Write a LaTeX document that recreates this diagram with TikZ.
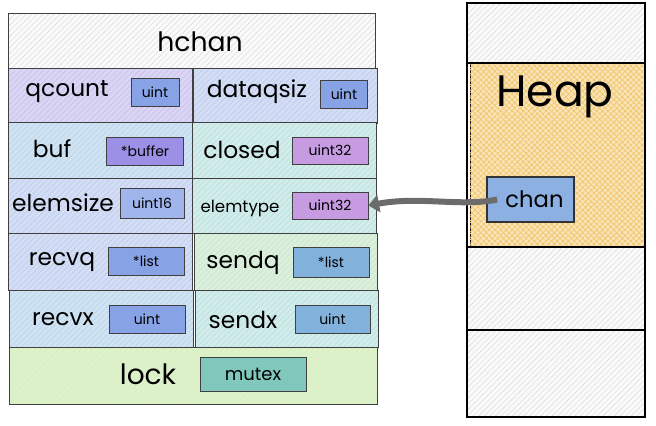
\documentclass[tikz,border=0pt]{standalone}
\usepackage{fontspec}
\setmainfont{Poppins}
\usetikzlibrary{patterns.meta,arrows.meta}

\definecolor{hatchgray}{HTML}{C8C8C8}
\definecolor{lavender}{HTML}{D9D5F2}
\definecolor{paleblue}{HTML}{D3DDF3}
\definecolor{skyblue}{HTML}{D0E3F2}
\definecolor{paleteal}{HTML}{D2ECEC}
\definecolor{palegreen}{HTML}{DCEFD9}
\definecolor{limegreen}{HTML}{E2EFCB}
\definecolor{tagblue}{HTML}{87A3E6}
\definecolor{tagpurple}{HTML}{9C90E6}
\definecolor{tagviolet}{HTML}{C69BE2}
\definecolor{tagsteel}{HTML}{82B2DC}
\definecolor{tagteal}{HTML}{80C8BC}
\definecolor{heaporange}{HTML}{F2C466}
\definecolor{chanblue}{HTML}{6E9CDA}

\tikzset{
  hatch/.style={postaction={draw=black!75, pattern={Lines[angle=45,distance=3pt,line width=0.35pt]},pattern color=#1}},
  cell/.style={draw=black!75, line width=0.6pt, anchor=north west, inner sep=0pt,
    minimum width=138pt, minimum height=41.25pt},
  tag/.style={draw=black!75, line width=0.6pt, inner sep=0pt, minimum height=21pt,
    font=\fontsize{10.5}{12}\selectfont},
  lbl/.style={inner sep=0.75pt, font=\fontsize{17.5}{20}\selectfont},
}

\begin{document}
\begin{tikzpicture}[x=0.75pt,y=0.75pt,yscale=-1,xscale=1]
    \useasboundingbox (0,0) rectangle (656,425);

    %Shape: Rectangle -- hchan header
    \node [cell, fill=gray!4, hatch=hatchgray!70, minimum width=275.25pt] (hchanbox) at (8,13) {};
    % Text Node
    \node [lbl, font=\fontsize{20}{22}\selectfont] (hchan) at (200,42) {hchan};

    %Shape: Rectangle -- row qcount / dataqsiz
    \node [cell, fill=lavender, hatch=tagpurple!60] (qcountbox) at (8,68) {};
    \node [cell, fill=paleblue, hatch=tagblue!60] (dataqsizbox) at (193,68) {};
    % Text Node
    \node [lbl] (qcount) at (67,92) {qcount};
    \node [tag, fill=tagblue, minimum width=36pt] (qcounttype) at (155,92) {uint};
    % Text Node
    \node [lbl] (dataqsiz) at (257,92) {dataqsiz};
    \node [tag, fill=tagblue, minimum width=35.25pt] (dataqsiztype) at (344,94) {uint};

    %Shape: Rectangle -- row buf / closed
    \node [cell, fill=skyblue, hatch=tagsteel!60, minimum height=42pt] (bufbox) at (8,122) {};
    \node [cell, fill=paleteal, hatch=tagteal!60, minimum height=42pt] (closedbox) at (192,122) {};
    % Text Node
    \node [lbl] (buf) at (52,149) {buf};
    \node [tag, fill=tagpurple, minimum width=57.75pt] (buftype) at (145,151) {*buffer};
    % Text Node
    \node [lbl] (closed) at (242,150) {closed};
    \node [tag, fill=tagviolet, minimum width=57pt, minimum height=20.25pt] (closedtype) at (330,150.5) {uint32};

    %Shape: Rectangle -- row elemsize / elemtype
    \node [cell, fill=paleblue, hatch=tagblue!60] (elemsizebox) at (8,178) {};
    \node [cell, fill=paleteal, hatch=tagteal!60] (elemtypebox) at (192,178) {};
    % Text Node
    \node [lbl] (elemsize) at (63,203) {elemsize};
    \node [tag, fill=tagblue!80, minimum width=48pt, minimum height=22.5pt] (elemsizetype) at (152,203) {uint16};
    % Text Node
    \node [lbl, font=\fontsize{12.5}{14}\selectfont] (elemtype) at (240,208) {elemtype};
    \node [tag, fill=tagviolet, minimum width=57pt, minimum height=20.25pt] (elemtypetype) at (330,205.5) {uint32};

    %Shape: Rectangle -- row recvq / sendq
    \node [cell, fill=paleblue, hatch=tagblue!60, minimum height=42.75pt] (recvqbox) at (8,233) {};
    \node [cell, fill=palegreen, hatch=tagteal!50, minimum width=137.25pt, minimum height=42.75pt] (sendqbox) at (194,233) {};
    % Text Node
    \node [lbl] (recvq) at (62,262) {recvq};
    \node [tag, fill=tagblue, minimum width=57pt] (recvqtype) at (146,261.5) {*list};
    % Text Node
    \node [lbl] (sendq) at (243,263) {sendq};
    \node [tag, fill=tagsteel, minimum width=57pt, minimum height=22.5pt] (sendqtype) at (331,262) {*list};

    %Shape: Rectangle -- row recvx / sendx
    \node [cell, fill=skyblue, hatch=tagsteel!60, minimum height=42.75pt] (recvxbox) at (9,290) {};
    \node [cell, fill=paleteal, hatch=tagteal!60, minimum width=137.25pt, minimum height=42.75pt] (sendxbox) at (195,290) {};
    % Text Node
    \node [lbl] (recvx) at (63,319) {recvx};
    \node [tag, fill=tagblue, minimum width=57pt] (recvxtype) at (147,319) {uint};
    % Text Node
    \node [lbl] (sendx) at (243,320) {sendx};
    \node [tag, fill=tagsteel, minimum width=56.25pt] (sendxtype) at (332.5,319.5) {uint};

    %Shape: Rectangle -- lock
    \node [cell, fill=limegreen, hatch=palegreen!40!green!40, minimum width=276pt, minimum height=42.75pt] (lockbox) at (9,347) {};
    % Text Node
    \node [lbl, font=\fontsize{21}{24}\selectfont] (lock) at (148,374) {lock};
    \node [tag, fill=tagteal, minimum width=79.5pt, minimum height=25.5pt, font=\fontsize{13.5}{15}\selectfont] (locktype) at (253,374) {mutex};

    %Shape: Rectangle -- memory column
    \draw [fill=gray!4, hatch=hatchgray!70] (467,3) rectangle (645,63);
    \draw [fill=heaporange!45, postaction={pattern={Lines[angle=45,distance=3pt,line width=0.5pt]},pattern color=heaporange},
           postaction={pattern={Lines[angle=-45,distance=3pt,line width=0.5pt]},pattern color=heaporange}] (470,63) rectangle (645,247);
    \draw [fill=gray!4, hatch=hatchgray!70] (467,247) rectangle (645,330);
    \draw [fill=gray!4, hatch=hatchgray!70] (467,330) rectangle (645,417);
    \draw [line width=1.2pt] (467,3) rectangle (645,417);
    \draw [line width=1pt] (467,63) -- (645,63) (467,247) -- (645,247) (467,330) -- (645,330);
    % Text Node
    \node [inner sep=0.75pt, font=\fontsize{33}{36}\selectfont] (heap) at (555,97) {Heap};

    %Shape: Rectangle -- chan
    \node [draw=black!80, line width=0.8pt, fill=chanblue!80, inner sep=0pt, minimum width=65.25pt, minimum height=33.75pt,
           font=\fontsize{17}{19}\selectfont] (chan) at (530.5,199.5) {\hspace{6pt}chan};

    %Straight Lines -- pointer to elemtype
    \draw [draw=gray!85!black, line width=4.5pt, -{Triangle[length=8pt,width=13pt]}]
      ([xshift=8pt]chan.west) .. controls (460,207) and (420,196) .. (elemtypetype.east);

\end{tikzpicture}
\end{document}
